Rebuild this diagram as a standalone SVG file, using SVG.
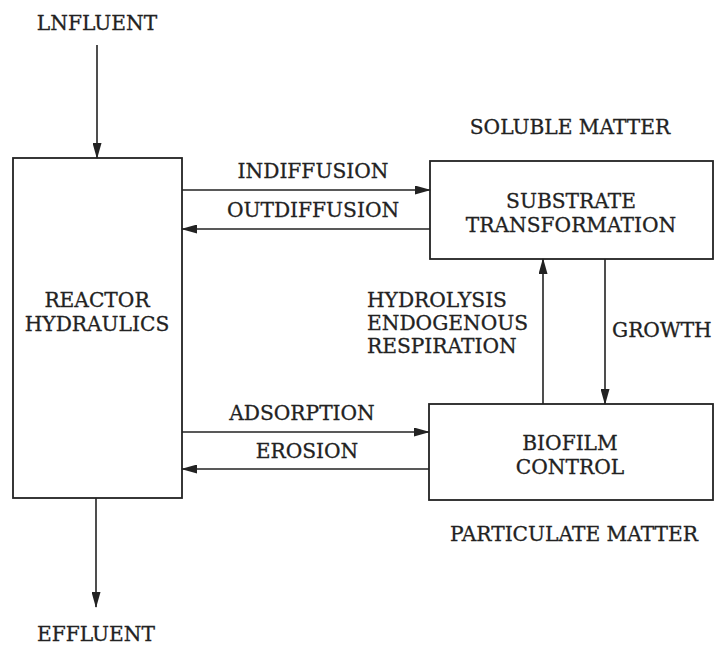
<svg xmlns="http://www.w3.org/2000/svg" width="715" height="647" viewBox="0 0 715 647">
<style>
text{font-family:"DejaVu Serif","Liberation Serif",serif;font-size:20.2px;fill:#222;stroke:#222;stroke-width:0.3}
.m{text-anchor:middle}
.box{fill:none;stroke:#222;stroke-width:1.8}
.ln{fill:none;stroke:#222;stroke-width:1.6}
</style>
<defs>
<marker id="ah" markerWidth="16" markerHeight="9" refX="15" refY="4.5" orient="auto" markerUnits="userSpaceOnUse">
<path d="M0,0 L16,4.5 L0,9 Z" fill="#222"/>
</marker>
</defs>
<rect width="715" height="647" fill="#fff"/>
<g id="reactor">
<rect class="box" x="13" y="158" width="169" height="340"/>
<text class="m" x="97" y="307">REACTOR</text>
<text class="m" x="97" y="331">HYDRAULICS</text>
</g>
<g id="substrate">
<rect class="box" x="430" y="161" width="283" height="98"/>
<text class="m" x="571" y="208">SUBSTRATE</text>
<text class="m" x="571" y="232">TRANSFORMATION</text>
</g>
<g id="biofilm">
<rect class="box" x="429" y="404" width="284" height="96"/>
<text class="m" x="570" y="450">BIOFILM</text>
<text class="m" x="570" y="474">CONTROL</text>
</g>
<g id="labels">
<text class="m" x="97" y="30">LNFLUENT</text>
<text class="m" x="96" y="641">EFFLUENT</text>
<text class="m" x="570" y="134">SOLUBLE  MATTER</text>
<text class="m" x="574" y="541">PARTICULATE  MATTER</text>
</g>
<g id="connectors">
<line class="ln" x1="97" y1="45" x2="97" y2="158" marker-end="url(#ah)"/>
<line class="ln" x1="96" y1="498" x2="96" y2="607" marker-end="url(#ah)"/>
<line class="ln" x1="182" y1="190" x2="430" y2="190" marker-end="url(#ah)"/>
<line class="ln" x1="430" y1="229" x2="182" y2="229" marker-end="url(#ah)"/>
<line class="ln" x1="182" y1="432" x2="429" y2="432" marker-end="url(#ah)"/>
<line class="ln" x1="429" y1="469" x2="182" y2="469" marker-end="url(#ah)"/>
<line class="ln" x1="543" y1="404" x2="543" y2="259" marker-end="url(#ah)"/>
<line class="ln" x1="605" y1="259" x2="605" y2="404" marker-end="url(#ah)"/>
<text class="m" x="313" y="178">INDIFFUSION</text>
<text class="m" x="313" y="217">OUTDIFFUSION</text>
<text class="m" x="302" y="420">ADSORPTION</text>
<text class="m" x="307" y="458">EROSION</text>
<text x="367" y="307">HYDROLYSIS</text>
<text x="367" y="330">ENDOGENOUS</text>
<text x="367" y="353">RESPIRATION</text>
<text x="612" y="337">GROWTH</text>
</g>
</svg>
